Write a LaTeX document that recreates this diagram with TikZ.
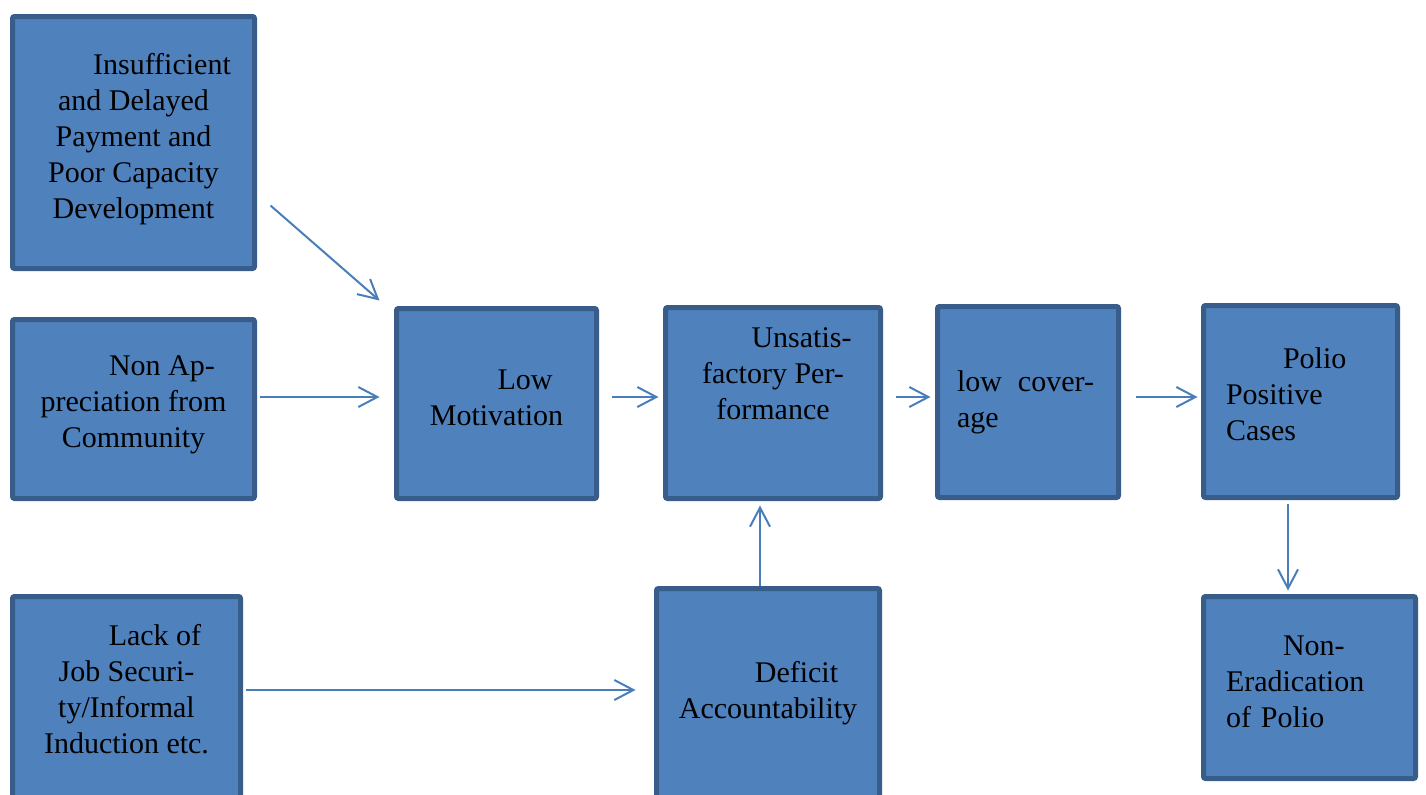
\documentclass[tikz,border=0pt]{standalone}
\usepackage{fontspec}
\setmainfont{Liberation Serif}
\usetikzlibrary{arrows.meta}
\definecolor{boxfill}{HTML}{4F81BD}
\definecolor{boxline}{HTML}{385D8A}
\definecolor{flowline}{HTML}{4A7EBB}
\newcommand{\firstind}{\hspace*{28.5pt}}

\begin{document}
\begin{tikzpicture}[x=0.5pt,y=-0.5pt,
  cause/.style={draw=boxline, fill=boxfill, line width=2.5pt, rounded corners=1pt,
    inner sep=0pt, align=center, font=\fontsize{15}{18}\selectfont},
  flow/.style={draw=flowline, line width=1pt, -{Straight Barb[length=9.5pt,width=10pt]}}]
\clip (0,0) rectangle (1426,794);
% causes on the left
\node[cause, minimum width=121pt, minimum height=126pt, text depth=7pt] (pay) at (133.5,142.5)
  {\firstind Insufficient\\and Delayed\\Payment and\\Poor Capacity\\Development};
\node[cause, minimum width=121pt, minimum height=89.5pt, text depth=7pt] (appr) at (133.5,409)
  {\firstind Non Ap-\\preciation from\\Community};
\node[cause, minimum width=114pt, minimum height=120.5pt, text depth=28pt] (job) at (126.5,717)
  {\firstind Lack of\\Job Securi-\\ty/Informal\\Induction etc.};
% main chain
\node[cause, minimum width=100pt, minimum height=95pt, text depth=6pt] (mot) at (496.5,403.5)
  {\firstind Low\\Motivation};
\node[cause, minimum width=107.5pt, minimum height=95.5pt, text depth=29pt] (unsat) at (773,403)
  {\firstind Unsatis-\\factory Per-\\formance};
\node[cause, minimum width=90.5pt, minimum height=95.5pt, align=left, text width=71pt] (cov) at (1028,402)
  {low\hspace{8pt}cover-\\age};
\node[cause, minimum width=97pt, minimum height=96pt, align=left, text width=74.5pt, text depth=43pt] (pos) at (1300.5,401.5)
  {\firstind Polio\\Positive\\Cases};
\node[cause, minimum width=106pt, minimum height=91pt, align=left, text width=83.5pt, text depth=42pt] (erad) at (1309.5,687.5)
  {\firstind Non-\\Eradication\\of Polio};
\node[cause, minimum width=111.5pt, minimum height=124.5pt, text depth=23pt] (acc) at (768,713)
  {\firstind Deficit\\Accountability};
% connectors
\coordinate (row) at (0,397);
\coordinate (low) at (0,690);
\coordinate (col) at (1288,0);
\coordinate (mid) at (760,0);
\draw[flow] ([shift={(13.5,-65.5)}]pay.south east) -- ([shift={(-14.5,-5.5)}]mot.north west);
\draw[flow, shorten <=1.25pt, shorten >=7.25pt] (appr.east |- row) -- (mot.west |- row);
\draw[flow, shorten <=6.25pt, shorten >=2.25pt] (mot.east |- row) -- (unsat.west |- row);
\draw[flow, shorten <=6.25pt, shorten >=2.25pt] (unsat.east |- row) -- (cov.west |- row);
\draw[flow, shorten <=7.25pt, shorten >=1.75pt] (cov.east |- row) -- (pos.west |- row);
\draw[flow, shorten <=1.75pt, shorten >=1.75pt] (pos.south -| col) -- (erad.north -| col);
\draw[flow, shorten >=2.25pt] (acc.north -| mid) -- (unsat.south -| mid);
\draw[flow, shorten <=1.25pt, shorten >=9.25pt] (job.east |- low) -- (acc.west |- low);
\end{tikzpicture}
\end{document}
